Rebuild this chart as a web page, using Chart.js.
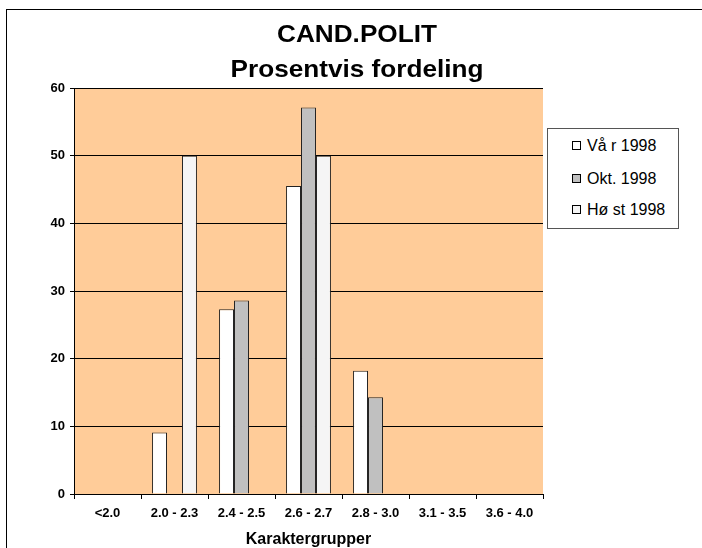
<!DOCTYPE html>
<html>
<head>
<meta charset="utf-8">
<script src="https://cdn.jsdelivr.net/npm/chart.js@4/dist/chart.umd.min.js"></script>
<style>
    body { margin: 0; background: #fff; font-family: "Liberation Sans", Arial, sans-serif; }
    #wrap { position: relative; width: 702px; height: 548px; overflow: hidden; }
    #frame { position: absolute; left: 6px; top: 9px; width: 720px; height: 560px; border: 1px solid #000; }
    canvas { position: absolute; left: 0; top: 0; }
    .title { position: absolute; left: 0; width: 714px; text-align: center; font-weight: bold; font-size: 24px; line-height: 24px; color: #000; white-space: nowrap; transform: scaleX(1.09); transform-origin: 357px 0; }
    #legend { position: absolute; left: 547px; top: 128px; width: 130px; height: 99px; border: 1px solid #555; background: #fff; }
    .item { position: absolute; left: 24px; font-size: 16px; color: #000; line-height: 18px; white-space: nowrap; }
    .item span { display: inline-block; width: 7px; height: 7px; border: 1px solid #000; margin-right: 6px; vertical-align: 1px; }
</style>
</head>
<body>
<div id="wrap">
    <div id="frame"></div>
    <canvas id="chart" width="702" height="548"></canvas>
    <div class="title" style="top:22px">CAND.POLIT</div>
    <div class="title" style="top:57px">Prosentvis fordeling</div>
    <div id="legend"></div>
</div>
<script>
const categories = ['<2.0', '2.0 - 2.3', '2.4 - 2.5', '2.6 - 2.7', '2.8 - 3.0', '3.1 - 3.5', '3.6 - 4.0'];
const seriesNames = ['Vå r 1998', 'Okt. 1998', 'Hø st 1998'];
const seriesColors = ['#ffffff', '#c0c0c0', '#f5f5f5'];
const varValues = [0, 9.1, 27.3, 45.5, 18.2, 0, 0];
const oktValues = [0, 0, 28.6, 57.1, 14.3, 0, 0];
const hostValues = [0, 50, 0, 50, 0, 0, 0];
const yTicks = [0, 10, 20, 30, 40, 50, 60];

const plotBg = {
    id: 'plotBg',
    beforeDraw(chart) {
        const a = chart.chartArea;
        const ctx = chart.ctx;
        ctx.save();
        ctx.fillStyle = '#ffcc99';
        ctx.fillRect(a.left, a.top, a.right - a.left, a.bottom - a.top);
        ctx.restore();
    }
};

const font = { family: '"Liberation Sans", Arial, sans-serif', size: 13, weight: 'bold' };

new Chart(document.getElementById('chart'), {
    type: 'bar',
    data: {
        labels: categories,
        datasets: [varValues, oktValues, hostValues].map((vals, i) => ({
            label: seriesNames[i],
            data: vals,
            backgroundColor: seriesColors[i],
            borderColor: '#222',
            borderWidth: 1,
            categoryPercentage: 0.67,
            barPercentage: 1
        }))
    },
    options: {
        responsive: false,
        animation: false,
        devicePixelRatio: 1,
        layout: { padding: { left: 19, right: 159, top: 88, bottom: 0 } },
        plugins: { legend: { display: false }, title: { display: false }, tooltip: { enabled: false } },
        scales: {
            x: {
                grid: { display: true, drawOnChartArea: false, drawTicks: true, tickLength: 5, color: '#000', offset: true },
                border: { color: '#000', width: 1 },
                ticks: { color: '#000', font: font, padding: 7, maxRotation: 0 },
                title: { display: true, text: 'Karaktergrupper', color: '#000', font: { family: font.family, size: 16, weight: 'bold', lineHeight: 1 }, padding: { top: 0, bottom: 0 } },
                afterFit(scale) { scale.height = 54; }
            },
            y: {
                min: 0,
                max: 60,
                afterBuildTicks(scale) { scale.ticks = yTicks.map(v => ({ value: v })); },
                grid: { color: '#000', lineWidth: 1, drawTicks: true, tickLength: 4 },
                border: { color: '#000', width: 1 },
                ticks: { color: '#000', font: font, padding: 5 },
                afterFit(scale) { scale.width = 55; }
            }
        }
    },
    plugins: [plotBg]
});

const legend = document.getElementById('legend');
const rowTops = [8, 41, 72];
seriesNames.forEach((name, i) => {
    const d = document.createElement('div');
    d.className = 'item';
    d.style.top = rowTops[i] + 'px';
    d.innerHTML = '<span style="background:' + seriesColors[i] + '"></span>' + name;
    legend.appendChild(d);
});
</script>
</body>
</html>
